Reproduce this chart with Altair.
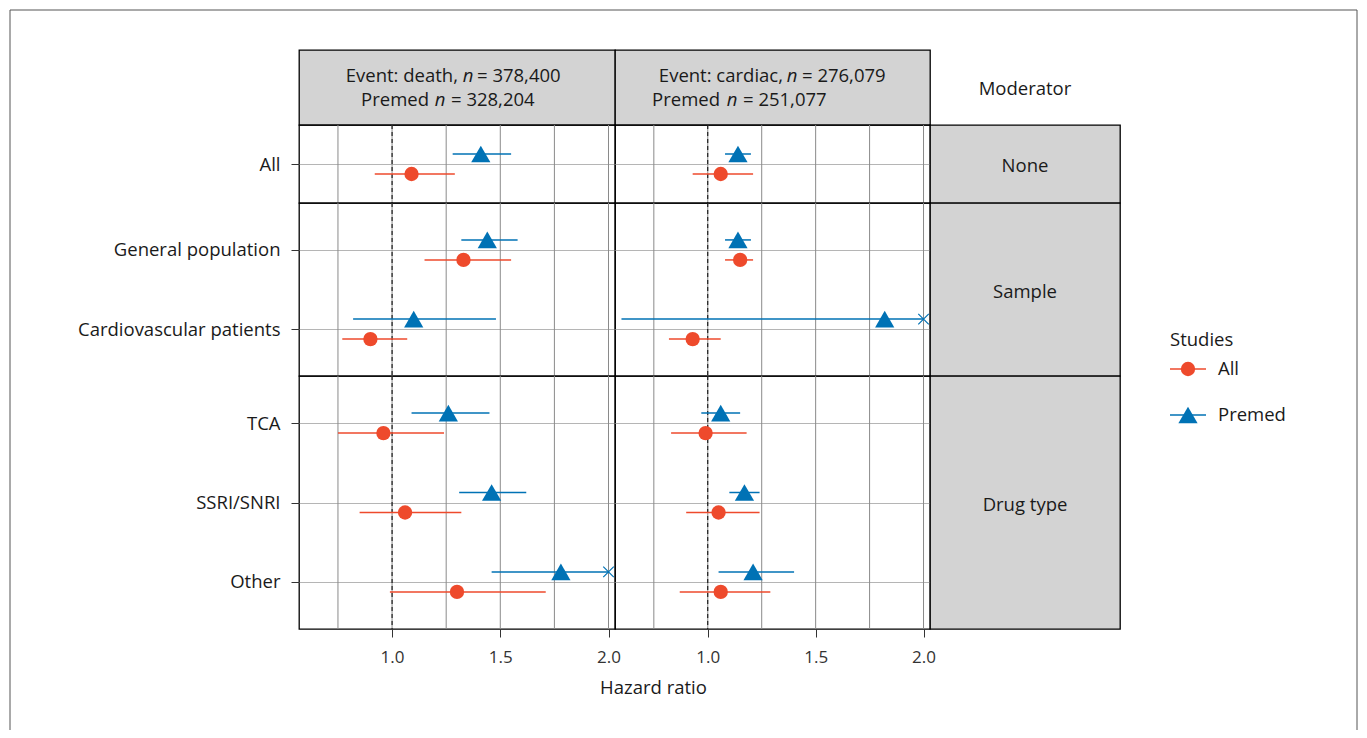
import altair as alt
import pandas as pd

# ---------------- data ----------------
labels = ["All", "General population", "Cardiovascular patients", "TCA", "SSRI/SNRI", "Other"]
row_moderator = ["None", "Sample", "Sample", "Drug type", "Drug type", "Drug type"]
moderator_order = ["None", "Sample", "Drug type"]

# Event: death
death_all_hr = [1.09, 1.33, 0.90, 0.96, 1.06, 1.30]
death_all_lo = [0.92, 1.15, 0.77, 0.75, 0.85, 0.99]
death_all_hi = [1.29, 1.55, 1.07, 1.24, 1.32, 1.71]
death_pre_hr = [1.41, 1.44, 1.10, 1.26, 1.46, 1.78]
death_pre_lo = [1.28, 1.32, 0.82, 1.09, 1.31, 1.46]
death_pre_hi = [1.55, 1.58, 1.48, 1.45, 1.62, 2.00]   # last one runs off the axis
death_pre_cut = [False, False, False, False, False, True]

# Event: cardiac
cardiac_all_hr = [1.06, 1.15, 0.93, 0.99, 1.05, 1.06]
cardiac_all_lo = [0.93, 1.08, 0.82, 0.83, 0.90, 0.87]
cardiac_all_hi = [1.21, 1.21, 1.06, 1.18, 1.24, 1.29]
cardiac_pre_hr = [1.14, 1.14, 1.82, 1.06, 1.17, 1.21]
cardiac_pre_lo = [1.08, 1.08, 0.60, 0.97, 1.10, 1.05]
cardiac_pre_hi = [1.20, 1.20, 2.00, 1.15, 1.24, 1.40]  # cardiovascular runs off the axis
cardiac_pre_cut = [False, False, True, False, False, False]
no_cut = [False] * 6

events = ["death", "cardiac"]
studies = ["All", "Premed"]
grid_vals = [0.75, 1.0, 1.25, 1.5, 1.75, 2.0]
tick_vals = [1.0, 1.5, 2.0]
ref_val = [1.0]
x_domain = [0.57, 2.03]

header_line1 = {"death": ("Event: death,", "= 378,400"), "cardiac": ("Event: cardiac,", "= 276,079")}
header_line2 = {"death": ("Premed", "= 328,204"), "cardiac": ("Premed", "= 251,077")}

# ---------------- table ----------------
series = {
    ("death", "All"): (death_all_hr, death_all_lo, death_all_hi, no_cut),
    ("death", "Premed"): (death_pre_hr, death_pre_lo, death_pre_hi, death_pre_cut),
    ("cardiac", "All"): (cardiac_all_hr, cardiac_all_lo, cardiac_all_hi, no_cut),
    ("cardiac", "Premed"): (cardiac_pre_hr, cardiac_pre_lo, cardiac_pre_hi, cardiac_pre_cut),
}
recs = []
for (ev, st), (hr, lo, hi, cut) in series.items():
    for i, lab in enumerate(labels):
        recs.append(dict(label=lab, moderator=row_moderator[i], event=ev, study=st,
                         hr=hr[i], lo=lo[i], hi=min(hi[i], x_domain[1]), cut=cut[i]))
df = pd.DataFrame(recs)

FONT = "Open Sans"
FS = 18.5
RED = "#EE4A2C"
BLUE = "#0072B5"
GRAY = "#d3d3d3"
TXT = "#1a1a1a"
PW = {"death": 316, "cardiac": 315}
SW = 190
row_h = {"None": 78, "Sample": 173, "Drug type": 253}
HEAD_H = 75
one = pd.DataFrame({"k": [0]})
PANEL_VIEW = alt.ViewBackground(stroke="black", strokeWidth=1.3)
STRIP_VIEW = alt.ViewBackground(fill=GRAY, stroke="black", strokeWidth=1.3)

TRI = "triangle-up"
STAR = "M-1,-1L1,1M-1,1L1,-1"


def panel(mod, ev, first_col, last_row):
    sub = df[(df.moderator == mod) & (df.event == ev)]
    labs = [l for l, m in zip(labels, row_moderator) if m == mod]
    h = row_h[mod]
    xs = alt.Scale(domain=x_domain, nice=False, zero=False)
    ys = alt.Scale(type="point", domain=labs, padding=0.593)
    if last_row:
        xax = alt.Axis(values=tick_vals, format=".1f", grid=False, domain=False, tickSize=8,
                       tickColor="#333", labelFont=FONT, labelFontSize=17, labelColor="#333", labelPadding=12,
                       title="Hazard ratio" if first_col else None, titleX=354, titleFont=FONT,
                       titleFontSize=FS, titleFontWeight="normal", titleColor=TXT, titlePadding=13)
    else:
        xax = None
    if first_col:
        yax = alt.Axis(title=None, labelFont=FONT, labelFontSize=FS, labelColor=TXT, tickSize=8, tickColor="#333",
                       labelPadding=11, labelLimit=400, domain=False, grid=True, gridColor="#b5b5b5", gridWidth=1.2)
    else:
        yax = alt.Axis(title=None, labels=False, ticks=False, domain=False, grid=True,
                       gridColor="#b5b5b5", gridWidth=1.2)

    def X(f):
        return alt.X(f, scale=xs, axis=xax)

    def Y():
        return alt.Y("label:N", scale=ys, axis=yax)

    vgrid = alt.Chart(pd.DataFrame({"v": grid_vals})).mark_rule(color="#8a8a8a", strokeWidth=1).encode(x=X("v:Q"))
    refl = alt.Chart(pd.DataFrame({"v": ref_val})).mark_rule(color="black", strokeDash=[4, 3], strokeWidth=1).encode(x=X("v:Q"))
    base = alt.Chart(sub)
    layers = [vgrid, refl]
    for st, off, col in [("Premed", -10, BLUE), ("All", 10, RED)]:
        b = base.transform_filter(alt.datum.study == st)
        layers.append(b.mark_rule(color=col, strokeWidth=1.5, yOffset=off).encode(x=X("lo:Q"), x2="hi:Q", y=Y()))
    b = base.transform_filter(alt.datum.study == "Premed")
    layers.append(b.mark_point(shape=TRI, filled=True, size=370, color=BLUE, opacity=1, yOffset=-10).encode(x=X("hr:Q"), y=Y()))
    layers.append(b.transform_filter(alt.datum.cut).mark_point(shape=STAR, filled=False, size=110, color=BLUE, strokeWidth=1.2, opacity=1, yOffset=-10).encode(x=X("hi:Q"), y=Y()))
    a = base.transform_filter(alt.datum.study == "All")
    layers.append(a.mark_circle(size=205, color=RED, opacity=1, yOffset=10).encode(x=X("hr:Q"), y=Y()))
    return alt.layer(*layers).properties(width=PW[ev], height=h, view=PANEL_VIEW)


def strip(mod, with_legend=False):
    h = row_h[mod]
    t = alt.Chart(pd.DataFrame({"t": [mod]})).mark_text(font=FONT, fontSize=FS, color=TXT, baseline="middle").encode(
        text="t:N", x=alt.value(95), y=alt.value(h / 2 + 2))
    layers = [t]
    if with_legend:
        leg = pd.DataFrame({"study": studies})
        ly = alt.Y("study:N", scale=alt.Scale(type="point", domain=studies, range=[166, 212], padding=0), axis=None)
        cs = alt.Scale(domain=studies, range=[RED, BLUE])
        lb = alt.Chart(leg)
        layers.append(alt.Chart(one).mark_text(text="Studies", font=FONT, fontSize=FS, color=TXT, align="left", baseline="middle").encode(
            x=alt.value(240), y=alt.value(137)))
        layers.append(lb.mark_rule(strokeWidth=1.5).encode(x=alt.value(240), x2=alt.value(276), y=ly,
                                                           color=alt.Color("study:N", scale=cs, legend=None)))
        layers.append(lb.transform_filter(alt.datum.study == "All").mark_circle(size=205, color=RED, opacity=1).encode(x=alt.value(258), y=ly))
        layers.append(lb.transform_filter(alt.datum.study == "Premed").mark_point(shape=TRI, filled=True, size=370, color=BLUE, opacity=1).encode(x=alt.value(258), y=ly))
        layers.append(lb.mark_text(font=FONT, fontSize=FS, color=TXT, align="left", baseline="middle").encode(
            text="study:N", x=alt.value(288), y=ly))
    return alt.layer(*layers).properties(width=SW, height=h, view=STRIP_VIEW)


def txt(s, x, y, align, italic=False):
    kw = dict(text=s, font=FONT, fontSize=FS, color=TXT, align=align, baseline="middle")
    if italic:
        kw["fontStyle"] = "italic"
    return alt.Chart(one).mark_text(**kw).encode(x=alt.value(x), y=alt.value(y))


def header(ev, frame=False):
    p1, s1 = header_line1[ev]
    p2, s2 = header_line2[ev]
    if ev == "death":
        ls = [txt(p1, 159, 26, "right"), txt("n", 169, 26, "center", True), txt(s1, 178, 26, "left"),
              txt(p2, 130, 50, "right"), txt("n", 141, 50, "center", True), txt(s2, 152, 50, "left")]
    else:
        ls = [txt(p1, 168, 26, "right"), txt("n", 177, 26, "center", True), txt(s1, 187, 26, "left"),
              txt(p2, 105, 50, "right"), txt("n", 117, 50, "center", True), txt(s2, 128, 50, "left")]
    if frame:
        fr = alt.Chart(one)
        ls += [
            fr.mark_rule(color="#555", strokeWidth=1).encode(x=alt.value(-289), y=alt.value(-40), y2=alt.value(680)),
            fr.mark_rule(color="#555", strokeWidth=1).encode(x=alt.value(-289), x2=alt.value(1058), y=alt.value(-40)),
            fr.mark_rule(color="#555", strokeWidth=1).encode(x=alt.value(1058), y=alt.value(-40), y2=alt.value(680)),
        ]
    return alt.layer(*ls).properties(width=PW[ev], height=HEAD_H, view=STRIP_VIEW)


mod_head = txt("Moderator", 95, 39, "center").properties(
    width=SW, height=HEAD_H, view=alt.ViewBackground(fill="transparent", stroke="transparent"))

cells = [header("death", frame=True), header("cardiac"), mod_head]
for mod in moderator_order:
    last = mod == moderator_order[-1]
    cells += [panel(mod, "death", True, last), panel(mod, "cardiac", False, last), strip(mod, mod == "Sample")]

chart = alt.concat(*cells, columns=3, spacing=0, bounds="flush", align="each").properties(
    padding=0
).configure_view(stroke="black", strokeWidth=1.3).configure_axis(labelFont=FONT, titleFont=FONT).configure(background="white")

chart.save("out.html", embed_options={"renderer": "svg", "actions": False})
